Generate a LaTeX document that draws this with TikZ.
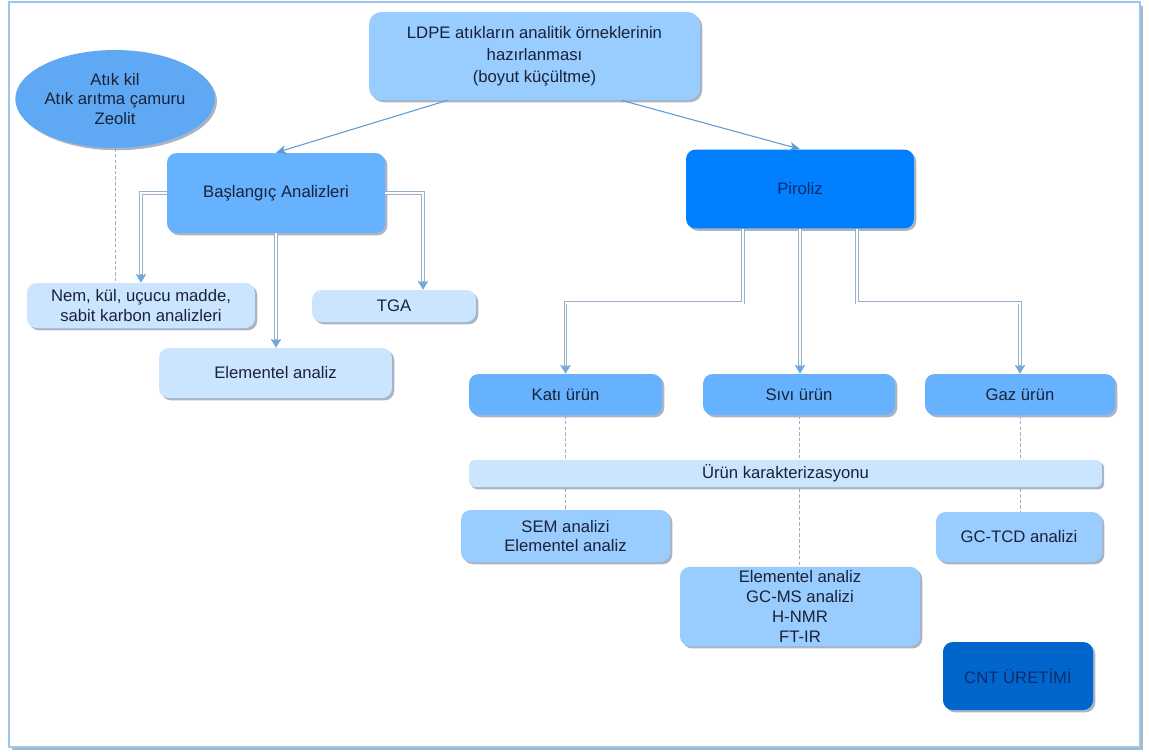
\documentclass[tikz,border=0pt]{standalone}
\usepackage{fontspec}
\setmainfont{Liberation Sans}
\usetikzlibrary{shapes.geometric,arrows.meta,shadows}

\definecolor{txtdark}{HTML}{1A2238}
\definecolor{txtnavy}{HTML}{0B2C6E}
\definecolor{palefill}{HTML}{CCE5FF}
\definecolor{lightfill}{HTML}{99CCFF}
\definecolor{midfill}{HTML}{66B2FF}
\definecolor{ellfill}{HTML}{5FA9F4}
\definecolor{strongfill}{HTML}{007FFF}
\definecolor{deepfill}{HTML}{0066CC}
\definecolor{shadowgrey}{HTML}{9AA9BC}
\definecolor{framegrey}{HTML}{A9B6C6}
\definecolor{frameblue}{HTML}{9CC6EC}
\definecolor{arrowblue}{HTML}{5B9BD5}
\definecolor{tipblue}{HTML}{6FA8DC}
\definecolor{pipeedge}{HTML}{97B1CB}
\definecolor{dotgrey}{HTML}{A4AEBC}

\begin{document}
\begin{tikzpicture}[x=0.02cm, y=-0.02cm,
        font=\fontsize{9.5}{11.3}\selectfont,
        shadowed/.style={drop shadow={shadow xshift=1.3pt, shadow yshift=-1.3pt, fill=shadowgrey, opacity=0.85}},
        box/.style={rectangle, rounded corners=5.5pt, align=center, text=txtdark, inner sep=2pt, shadowed},
        pale/.style={box, fill=palefill},
        light/.style={box, fill=lightfill},
        mid/.style={box, fill=midfill},
        thinarrow/.style={draw=arrowblue, line width=0.6pt, -{Stealth[length=6pt, width=5pt]}},
        pipe/.style={draw=pipeedge, line width=1.8pt,
            -{Stealth[length=5pt, width=6pt, inset=1.2pt, line width=0.3pt, color=tipblue, fill=tipblue]},
            postaction={draw=white, line width=0.8pt, shorten >=5pt, -}},
        dotline/.style={draw=dotgrey, line width=0.5pt, dash pattern=on 2pt off 1.2pt}]
        \useasboundingbox (0,0) rectangle (1149,751);

        % Frame
        \fill[framegrey] (12,6) rectangle (1143,750);
        \draw[frameblue, fill=white, line width=0.6pt] (9,2) rectangle (1140,747);

        % Top box and raw materials
        \node[light, rounded corners=7pt, minimum width=6.62cm, minimum height=1.76cm, font=\fontsize{9.5}{12.6}\selectfont] (ldpe) at (534.5,56) {LDPE atıkların analitik örneklerinin\\hazırlanması\\(boyut küçültme)};
        \node[ellipse, fill=ellfill, minimum width=3.12cm, minimum height=1.96cm, inner sep=0pt, align=center, text=txtdark, font=\fontsize{9.5}{11}\selectfont, shadowed] (ell) at (115,99) {Atık kil\\Atık arıtma çamuru\\Zeolit};

        % Left branch
        \node[mid, minimum width=4.36cm, minimum height=1.6cm] (basla) at (276,193) {Başlangıç Analizleri};
        \node[pale, minimum width=4.56cm, minimum height=0.9cm] (nem) at (141,305.5) {Nem, kül, uçucu madde,\\sabit karbon analizleri};
        \node[pale, minimum width=3.28cm, minimum height=0.64cm] (tga) at (394,306) {TGA};
        \node[pale, minimum width=4.66cm, minimum height=1.0cm] (elem) at (275.5,373) {Elementel analiz};

        % Right branch
        \node[box, fill=strongfill, text=txtnavy, minimum width=4.56cm, minimum height=1.58cm] (piroliz) at (800,189) {Piroliz};
        \node[mid, minimum width=3.86cm, minimum height=0.82cm] (kati) at (565.5,394.5) {Katı ürün};
        \node[mid, minimum width=3.84cm, minimum height=0.82cm] (sivi) at (799,394.5) {Sıvı ürün};
        \node[mid, minimum width=3.8cm, minimum height=0.82cm] (gaz) at (1020,394.5) {Gaz ürün};

        \node[light, minimum width=4.18cm, minimum height=1.04cm] (sem) at (565.5,536) {SEM analizi\\Elementel analiz};
        \node[light, minimum width=4.8cm, minimum height=1.58cm, font=\fontsize{9.5}{11.4}\selectfont] (sivan) at (800,606.5) {Elementel analiz\\GC-MS analizi\\H-NMR\\FT-IR};
        \node[light, minimum width=3.32cm, minimum height=1.0cm] (gctcd) at (1019,537) {GC-TCD analizi};
        \node[box, fill=deepfill, text=txtnavy, minimum width=3.0cm, minimum height=1.36cm] (cnt) at (1018,676) {CNT ÜRETİMİ};

        % Arrows
        \draw[thinarrow] (ldpe.207.5) -- (basla.north);
        \draw[thinarrow] (ldpe.333) -- (piroliz.north);

        \draw[pipe] (basla.west) -| (nem.north);
        \draw[pipe] (basla.south) -- (basla.south |- elem.north);
        \draw[pipe] (basla.east) -| ([xshift=0.58cm]tga.north);

        \draw[pipe] ([xshift=-1.14cm]piroliz.south) -- ++(0,74) -| (kati.north);
        \draw[pipe] (piroliz.south) -- (piroliz.south |- sivi.north);
        \draw[pipe] ([xshift=1.14cm]piroliz.south) -- ++(0,74) -| (gaz.north);

        % Dashed links
        \draw[dotline] (ell.south) -- (ell.south |- nem.north);
        \draw[dotline] (kati.south) -- (sem.north);
        \draw[dotline] (sivi.south) -- (sivi.south |- sivan.north);
        \draw[dotline] (gaz.south) -- (gaz.south |- gctcd.north);

        % Characterization bar
        \node[pale, rounded corners=3pt, minimum width=12.66cm, minimum height=0.54cm] (bar) at (785.5,473.5) {Ürün karakterizasyonu};
    \end{tikzpicture}
\end{document}
